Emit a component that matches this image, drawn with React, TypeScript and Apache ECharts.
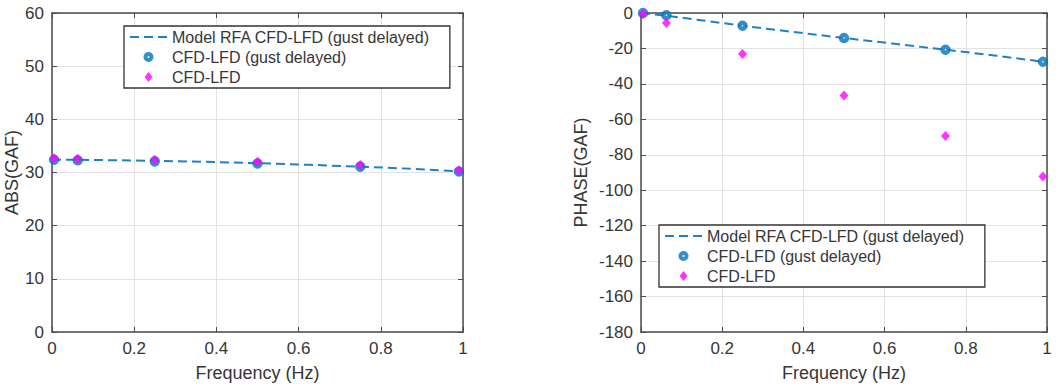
import React, { useEffect, useRef } from "react";
import * as echarts from "echarts";

// Frequencies (Hz) at which the GAF was sampled
const freq = [0.005, 0.0625, 0.25, 0.5, 0.75, 0.99];
// |GAF|
const absDelayed = [32.4, 32.3, 32.1, 31.7, 31.1, 30.2];
const absCfd = [32.7, 32.6, 32.4, 32.0, 31.4, 30.4];
// phase(GAF) in degrees
const phaseDelayed = [0, -1.3, -7.2, -14.1, -20.7, -27.5];
const phaseCfd = [-0.5, -5.7, -23.2, -46.5, -69.4, -92.3];

// Rational function approximation, evaluated on a finer frequency set
const modelFreq = [0, 0.0625, 0.125, 0.25, 0.375, 0.5, 0.625, 0.75, 0.875, 1.0];
const modelAbs = [32.4, 32.38, 32.33, 32.2, 32.0, 31.75, 31.45, 31.1, 30.7, 30.2];
const modelPhase = [0, -1.5, -3.4, -7.2, -10.7, -14.1, -17.4, -20.7, -24.1, -27.8];

const xTicks = { min: 0, max: 1, interval: 0.2 };
const absTicks = { min: 0, max: 60, interval: 10 };
const phaseTicks = { min: -180, max: 0, interval: 20 };

const NAME_MODEL = "Model RFA CFD-LFD (gust delayed)";
const NAME_DELAYED = "CFD-LFD (gust delayed)";
const NAME_CFD = "CFD-LFD";

const FONT = "Liberation Sans, Arial, Helvetica, sans-serif";
const TEXT = "#363636";
const AXIS = "#4a4a4a";
const GRID = "#e2e2e2";
const BLUE = "#0072BD";
const DASH_BLUE = "#1f80c8";
const MAGENTA = "#FF00FF";

// Legend glyphs: three short dashes, a thick ring with a pin-hole, and a diamond
const DASH_ICON = "path://M0 0L9 0L9 2L0 2Z M14 0L23 0L23 2L14 2Z M28 0L37 0L37 2L28 2Z";
const RING_ICON =
  "path://M5 0A5 5 0 1 1 5 10A5 5 0 1 1 5 0Z M5 4A1 1 0 1 0 5 6A1 1 0 1 0 5 4Z";
const DIAMOND_ICON = "path://M4 0L8 5L4 10L0 5Z";

const zip = (xs: number[], ys: number[]) => xs.map((x, i) => [x, ys[i]]);

function axisPair(
  kind: "x" | "y",
  gridIndex: number,
  ticks: { min: number; max: number; interval: number },
  name: string,
  nameGap: number
) {
  const main: any = {
    type: "value",
    gridIndex,
    position: kind === "x" ? "bottom" : "left",
    ...ticks,
    name,
    nameLocation: "middle",
    nameGap,
    nameTextStyle: { color: TEXT, fontSize: 18, fontFamily: FONT },
    axisLine: { show: true, onZero: false, lineStyle: { color: AXIS, width: 1.5 } },
    axisTick: { show: true, inside: true, length: 5, lineStyle: { color: AXIS } },
    axisLabel: {
      color: TEXT,
      fontSize: 17,
      fontFamily: FONT,
      margin: 8,
      formatter: (v: number) => String(Math.round(v * 1000) / 1000),
    },
    splitLine: { show: true, lineStyle: { color: GRID, width: 1 } },
  };
  const mirror: any = {
    type: "value",
    gridIndex,
    position: kind === "x" ? "top" : "right",
    ...ticks,
    axisLine: { show: true, onZero: false, lineStyle: { color: AXIS, width: 1.5 } },
    axisTick: { show: true, inside: true, length: 5, lineStyle: { color: AXIS } },
    axisLabel: { show: false },
    splitLine: { show: false },
  };
  return [main, mirror];
}

function legendFor(left: number, top: number) {
  return {
    orient: "vertical",
    left,
    top,
    padding: [3, 20, 3, 6],
    itemGap: 4,
    itemWidth: 37,
    itemHeight: 10,
    symbolKeepAspect: true,
    backgroundColor: "#ffffff",
    borderColor: "#333333",
    borderWidth: 1.3,
    textStyle: { color: TEXT, fontSize: 16, fontFamily: FONT },
    selectedMode: false,
    data: [
      {
        name: NAME_MODEL,
        icon: DASH_ICON,
        itemStyle: { color: DASH_BLUE, borderWidth: 0, borderColor: "transparent" },
        lineStyle: { width: 0 },
      },
      {
        name: NAME_DELAYED,
        icon: RING_ICON,
        itemStyle: { color: BLUE, borderWidth: 0, borderColor: "transparent" },
      },
      { name: NAME_CFD, icon: DIAMOND_ICON },
    ],
  };
}

function seriesFor(xi: number, yi: number, model: number[], delayed: number[], cfd: number[]) {
  return [
    {
      name: NAME_MODEL,
      type: "line",
      xAxisIndex: xi,
      yAxisIndex: yi,
      data: zip(modelFreq, model),
      symbol: "none",
      smooth: false,
      lineStyle: { color: DASH_BLUE, width: 2, type: [9, 5] },
      itemStyle: { color: DASH_BLUE },
      z: 2,
    },
    {
      name: NAME_DELAYED,
      type: "scatter",
      xAxisIndex: xi,
      yAxisIndex: yi,
      data: zip(freq, delayed),
      symbol: "circle",
      symbolSize: 6,
      itemStyle: { color: "#ffffff", borderColor: BLUE, borderWidth: 4.5 },
      z: 3,
    },
    {
      name: NAME_CFD,
      type: "scatter",
      xAxisIndex: xi,
      yAxisIndex: yi,
      data: zip(freq, cfd),
      symbol: "diamond",
      symbolSize: [9, 10],
      itemStyle: { color: MAGENTA },
      z: 4,
    },
  ];
}

export default function App() {
  const ref = useRef<HTMLDivElement>(null);

  useEffect(() => {
    if (!ref.current) return;
    const chart = echarts.init(ref.current, undefined, { renderer: "svg" });
    const [x0, x0m] = axisPair("x", 0, xTicks, "Frequency (Hz)", 32);
    const [y0, y0m] = axisPair("y", 0, absTicks, "ABS(GAF)", 31);
    const [x1, x1m] = axisPair("x", 1, xTicks, "Frequency (Hz)", 32);
    const [y1, y1m] = axisPair("y", 1, phaseTicks, "PHASE(GAF)", 51);

    chart.setOption({
      animation: false,
      backgroundColor: "#ffffff",
      textStyle: { fontFamily: FONT },
      grid: [
        { left: 52, top: 13, width: 411, height: 319 },
        { left: 641, top: 13, width: 406, height: 319 },
      ],
      xAxis: [x0, x0m, x1, x1m],
      yAxis: [y0, y0m, y1, y1m],
      legend: [legendFor(124, 26), legendFor(659, 225)],
      series: [
        ...seriesFor(0, 0, modelAbs, absDelayed, absCfd),
        ...seriesFor(2, 2, modelPhase, phaseDelayed, phaseCfd),
      ],
    });
    return () => chart.dispose();
  }, []);

  return (
    <div
      ref={ref}
      style={{ position: "fixed", left: 0, top: 0, width: 1059, height: 388, background: "#fff" }}
    />
  );
}
